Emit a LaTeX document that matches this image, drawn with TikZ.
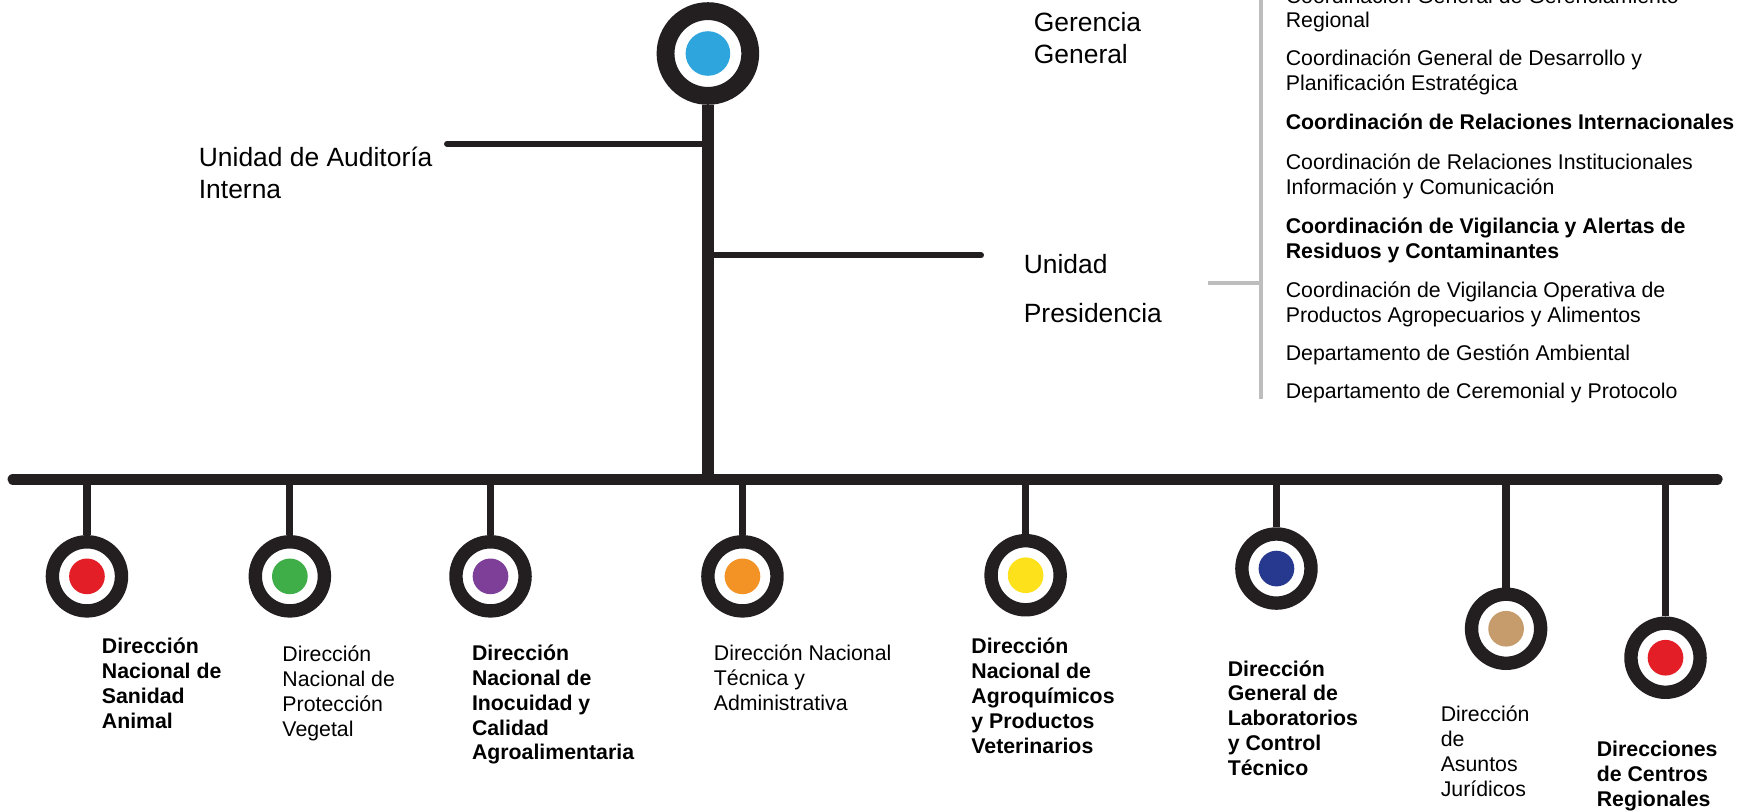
\documentclass[tikz,border=0pt]{standalone}
\usepackage{fontspec}
\setmainfont{Liberation Sans}
\definecolor{cblue}{HTML}{2EA6DD}
\definecolor{cred}{HTML}{E31E26}
\definecolor{cgreen}{HTML}{3FAE49}
\definecolor{cpurple}{HTML}{7D3F98}
\definecolor{corange}{HTML}{F39325}
\definecolor{cyellow}{HTML}{FDE21B}
\definecolor{cnavy}{HTML}{27388F}
\definecolor{ctan}{HTML}{C69C6D}
\definecolor{ink}{HTML}{231F20}
\definecolor{rulegray}{HTML}{BDBDBD}
\tikzset{
  ring/.style={circle, draw=ink, fill=white, line width=6pt, minimum size=31pt, inner sep=0pt},
  bigring/.style={circle, draw=ink, fill=white, line width=8pt, minimum size=38pt, inner sep=0pt},
  dot/.style={circle, inner sep=0pt, minimum size=16pt, fill=#1},
  bigdot/.style={circle, inner sep=0pt, minimum size=20pt, fill=#1},
  lbl/.style={anchor=base west, align=left, inner sep=0pt, font=\fontsize{9.55}{11.15}\selectfont},
  lblb/.style={lbl, font=\fontsize{9.55}{11.15}\selectfont\bfseries},
  biglbl/.style={anchor=base west, align=left, inner sep=0pt, font=\fontsize{11.85}{14.5}\selectfont},
  mainbar/.style={draw=ink, line width=5.25pt, line cap=round},
  trunkline/.style={draw=ink, line width=5.5pt},
  stemline/.style={draw=ink, line width=3.25pt},
  branchline/.style={draw=ink, line width=2.7pt, line cap=round},
  grayline/.style={draw=rulegray, line width=1.5pt},
}
\begin{document}
\begin{tikzpicture}[x=0.5pt,y=-0.5pt]
\useasboundingbox (0,0) rectangle (1568,727);
\clip (0,0) rectangle (1568,727);

% coordinates
\coordinate (barL) at (12,430);
\coordinate (barR) at (1540,430);
\coordinate (audL) at (401,129);
\coordinate (uniR) at (880,229);
\coordinate (gTop) at (1131,0);
\coordinate (gBot) at (1131,358);
\coordinate (gL) at (1084,254);

% top circle
\node[bigring] (gg) at (635,48) {};
\node[bigdot=cblue] (ggd) at (gg) {};

% trunk and branches
\draw[trunkline] (gg) -- (gg |- barL);
\draw[branchline] (audL) -- (audL -| gg);
\draw[branchline] (uniR -| gg) -- (uniR);
\draw[mainbar] (barL) -- (barR);

% gray bracket
\draw[grayline] (gTop) -- (gBot);
\draw[grayline, line width=2pt] (gL) -- (gL -| gTop);

% bottom circles
\foreach \n/\x/\y/\c in {1/78/517/cred, 2/260/517/cgreen, 3/440/517/cpurple, 4/666/517/corange, 5/920/516/cyellow, 6/1145/510/cnavy, 7/1351/564/ctan, 8/1494/590/cred}{
  \node[ring] (c\n) at (\x,\y) {};
  \node[dot=\c] (c\n d) at (c\n) {};
  \draw[stemline] (c\n |- barL) -- (c\n);
}

% upper labels (y = baseline of last line)
\node[biglbl] (gtext) at (927,57) {Gerencia\\General};
\node[biglbl] (audtext) at (178,178) {Unidad de Auditoría\\Interna};
\node[biglbl, font=\fontsize{11.85}{22}\selectfont] (pres) at (918,289) {Unidad\\Presidencia};

% right list
\node[lbl] (r1) at (1153,25) {Coordinación General de Gerenciamiento\\Regional};
\node[lbl] (r2) at (1153,81.5) {Coordinación General de Desarrollo y\\Planificación Estratégica};
\node[lblb] (r3) at (1153,116.5) {Coordinación de Relaciones Internacionales};
\node[lbl] (r4) at (1153,174.5) {Coordinación de Relaciones Institucionales\\Información y Comunicación};
\node[lblb] (r5) at (1153,231.5) {Coordinación de Vigilancia y Alertas de\\Residuos y Contaminantes};
\node[lbl] (r6) at (1153,289) {Coordinación de Vigilancia Operativa de\\Productos Agropecuarios y Alimentos};
\node[lbl] (r7) at (1153,323.5) {Departamento de Gestión Ambiental};
\node[lbl] (r8) at (1153,357.5) {Departamento de Ceremonial y Protocolo};

% bottom labels
\node[lblb] (l1) at (91,653.4) {Dirección\\Nacional de\\Sanidad\\Animal};
\node[lbl] (l2) at (253,660.4) {Dirección\\Nacional de\\Protección\\Vegetal};
\node[lblb] (l3) at (423,681.7) {Dirección\\Nacional de\\Inocuidad y\\Calidad\\Agroalimentaria};
\node[lbl] (l4) at (640,637.1) {Dirección Nacional\\Técnica y\\Administrativa};
\node[lblb] (l5) at (871,675.7) {Dirección\\Nacional de\\Agroquímicos\\y Productos\\Veterinarios};
\node[lblb] (l6) at (1101,695.7) {Dirección\\General de\\Laboratorios\\y Control\\Técnico};
\node[lbl] (l7) at (1292,714.4) {Dirección\\de\\Asuntos\\Jurídicos};
\node[lblb] (l8) at (1432,723.1) {Direcciones\\de Centros\\Regionales};
\end{tikzpicture}
\end{document}
